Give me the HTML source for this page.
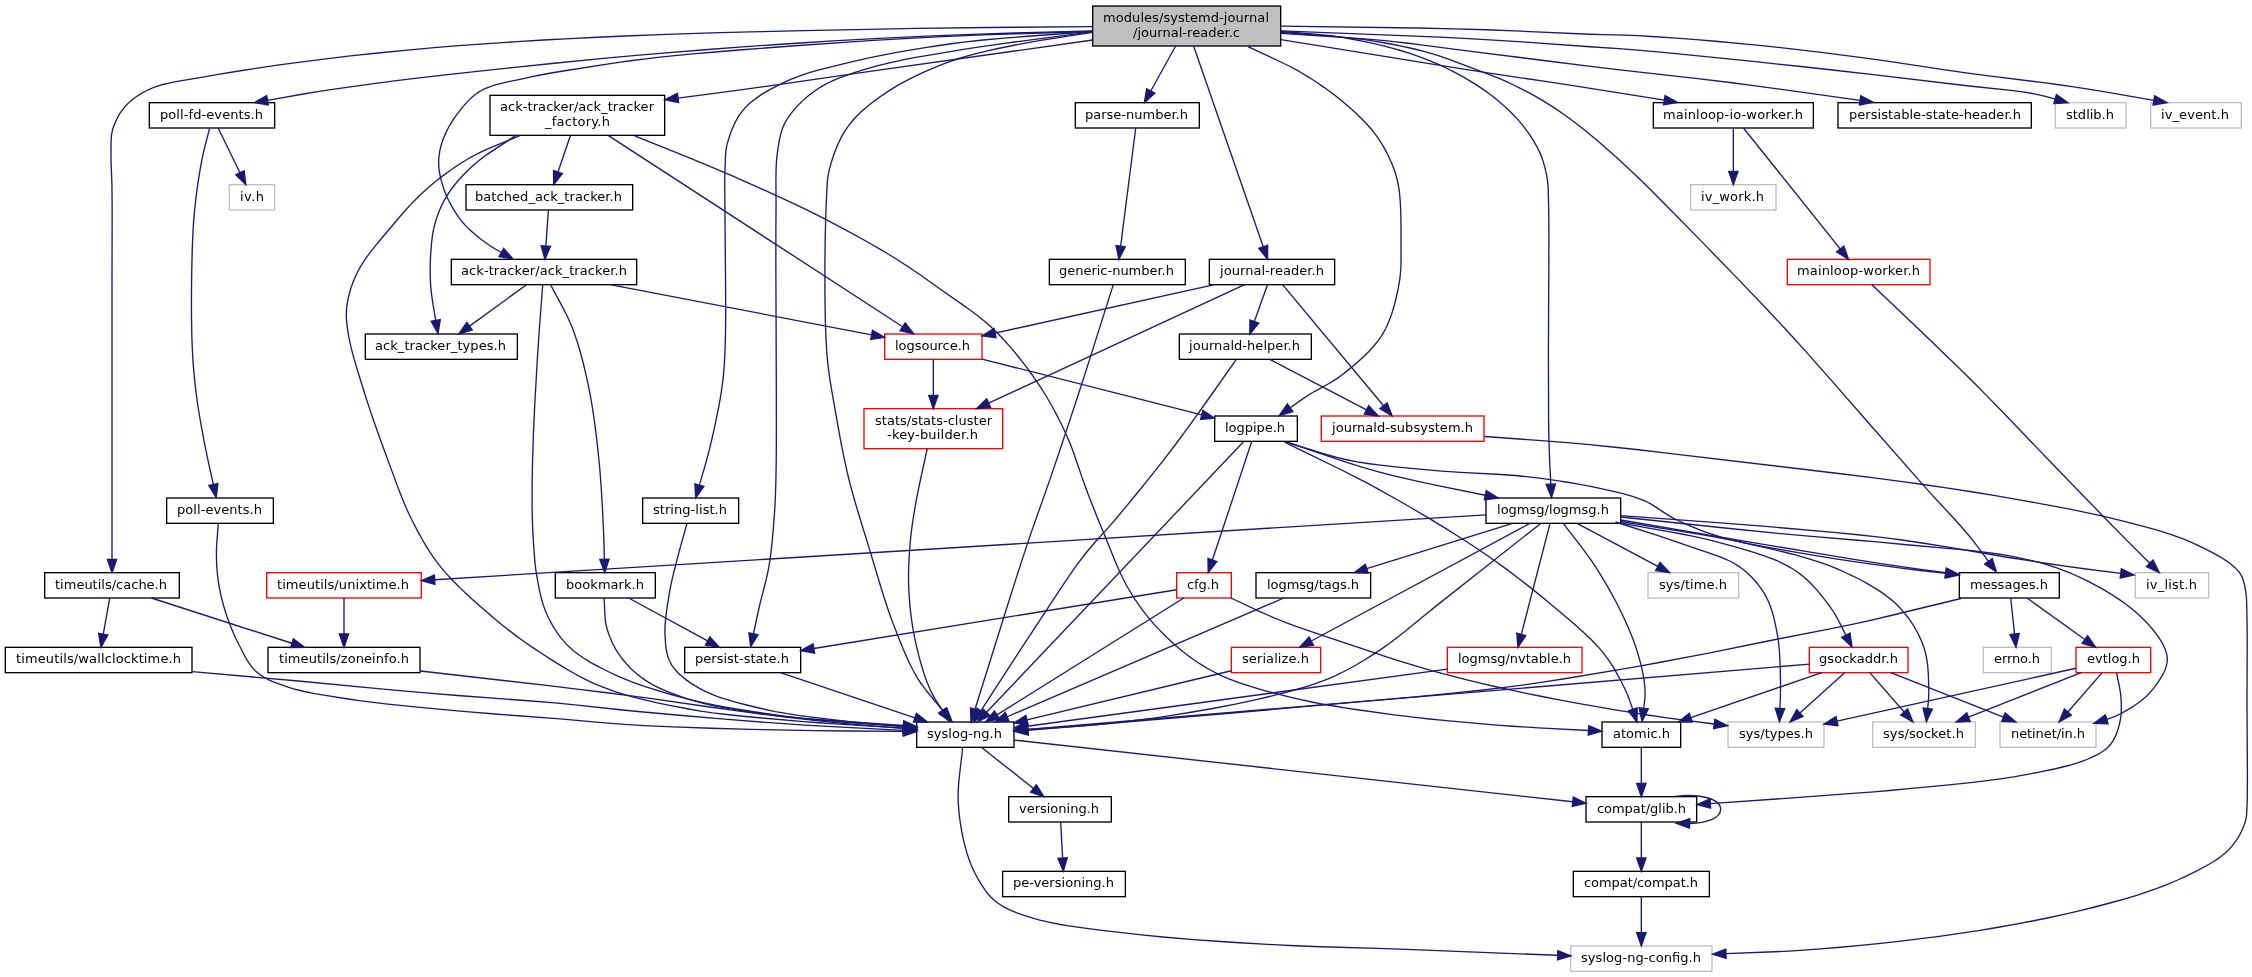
<!DOCTYPE html>
<html><head><meta charset="utf-8"><title>modules/systemd-journal/journal-reader.c</title>
<style>html,body{margin:0;padding:0;background:#fff}body{width:2252px;height:977px;overflow:hidden}</style></head>
<body>
<svg width="2252" height="977" viewBox="0 0 1689 732.75" style="display:block;will-change:transform">
<rect x="0" y="0" width="1689" height="733" fill="#fff"/>
<g font-family="'DejaVu Sans','Liberation Sans',sans-serif" font-size="9.75" text-anchor="start" fill="#000">
<rect x="819.5" y="4.5" width="141" height="30" fill="#bfbfbf" stroke="#000"/>
<text x="827.25" y="16.5" textLength="124.5">modules/systemd-journal</text>
<text x="849.75" y="27.5" textLength="80.24">/journal-reader.c</text>
<rect x="112" y="77" width="94" height="19" fill="#fff" stroke="#000"/>
<text x="120" y="89" textLength="77.25">poll-fd-events.h</text>
<rect x="367.5" y="71.5" width="131" height="30" fill="#fff" stroke="#000"/>
<text x="375" y="83.5" textLength="115.5">ack-tracker/ack_tracker</text>
<text x="408.75" y="94.5" textLength="48.74">_factory.h</text>
<rect x="806.5" y="77" width="93" height="19" fill="#fff" stroke="#000"/>
<text x="813.75" y="89" textLength="77.24">parse-number.h</text>
<rect x="1240" y="77" width="120" height="19" fill="#fff" stroke="#000"/>
<text x="1247.25" y="89" textLength="104.99">mainloop-io-worker.h</text>
<rect x="1378.5" y="77" width="145" height="19" fill="#fff" stroke="#000"/>
<text x="1386.75" y="89" textLength="128.99">persistable-state-header.h</text>
<rect x="1541.5" y="77" width="53" height="19" fill="#fff" stroke="#bfbfbf"/>
<text x="1549.5" y="89" textLength="36">stdlib.h</text>
<rect x="1613" y="77" width="68" height="19" fill="#fff" stroke="#bfbfbf"/>
<text x="1620.75" y="89" textLength="51">iv_event.h</text>
<rect x="172" y="138.5" width="34" height="19" fill="#fff" stroke="#bfbfbf"/>
<text x="180" y="150.5" textLength="17.99">iv.h</text>
<rect x="349.5" y="138.5" width="125" height="19" fill="#fff" stroke="#000"/>
<text x="356.25" y="150.5" textLength="110.24">batched_ack_tracker.h</text>
<rect x="1268" y="138.5" width="64" height="19" fill="#fff" stroke="#bfbfbf"/>
<text x="1275.75" y="150.5" textLength="47.25">iv_work.h</text>
<rect x="338.5" y="194.5" width="139" height="19" fill="#fff" stroke="#000"/>
<text x="345.75" y="206.5" textLength="124.49">ack-tracker/ack_tracker.h</text>
<rect x="787" y="194.5" width="102" height="19" fill="#fff" stroke="#000"/>
<text x="794.25" y="206.5" textLength="86.24">generic-number.h</text>
<rect x="907" y="194.5" width="94" height="19" fill="#fff" stroke="#000"/>
<text x="915" y="206.5" textLength="77.99">journal-reader.h</text>
<rect x="1340.5" y="194.5" width="107" height="19" fill="#fff" stroke="red"/>
<text x="1347.75" y="206.5" textLength="92.24">mainloop-worker.h</text>
<rect x="274" y="250.5" width="114" height="19" fill="#fff" stroke="#000"/>
<text x="281.25" y="262.5" textLength="98.25">ack_tracker_types.h</text>
<rect x="663.5" y="250.5" width="73" height="19" fill="#fff" stroke="red"/>
<text x="671.25" y="262.5" textLength="56.25">logsource.h</text>
<rect x="884.5" y="250.5" width="99" height="19" fill="#fff" stroke="#000"/>
<text x="891.75" y="262.5" textLength="83.24">journald-helper.h</text>
<rect x="648" y="306.5" width="104" height="30" fill="#fff" stroke="red"/>
<text x="656.25" y="318.5" textLength="87.75">stats/stats-cluster</text>
<text x="665.25" y="329.5" textLength="68.24">-key-builder.h</text>
<rect x="911" y="312" width="62" height="19" fill="#fff" stroke="#000"/>
<text x="918.75" y="324" textLength="45">logpipe.h</text>
<rect x="991" y="312" width="122" height="19" fill="#fff" stroke="red"/>
<text x="999" y="324" textLength="105.75">journald-subsystem.h</text>
<rect x="125" y="373.5" width="80" height="19" fill="#fff" stroke="#000"/>
<text x="132.75" y="385.5" textLength="63.75">poll-events.h</text>
<rect x="482" y="373.5" width="72" height="19" fill="#fff" stroke="#000"/>
<text x="489.75" y="385.5" textLength="55.5">string-list.h</text>
<rect x="1114.5" y="373.5" width="101" height="19" fill="#fff" stroke="#000"/>
<text x="1122.75" y="385.5" textLength="84">logmsg/logmsg.h</text>
<rect x="33.5" y="429.5" width="101" height="19" fill="#fff" stroke="#000"/>
<text x="41.25" y="441.5" textLength="84">timeutils/cache.h</text>
<rect x="200" y="429.5" width="116" height="19" fill="#fff" stroke="red"/>
<text x="207.75" y="441.5" textLength="99">timeutils/unixtime.h</text>
<rect x="416.5" y="429.5" width="75" height="19" fill="#fff" stroke="#000"/>
<text x="424.5" y="441.5" textLength="58.5">bookmark.h</text>
<rect x="882.5" y="429.5" width="41" height="19" fill="#fff" stroke="red"/>
<text x="890.25" y="441.5" textLength="24">cfg.h</text>
<rect x="942" y="429.5" width="86" height="19" fill="#fff" stroke="#000"/>
<text x="950.25" y="441.5" textLength="69">logmsg/tags.h</text>
<rect x="1236" y="429.5" width="68" height="19" fill="#fff" stroke="#bfbfbf"/>
<text x="1244.25" y="441.5" textLength="51">sys/time.h</text>
<rect x="1469.5" y="429.5" width="75" height="19" fill="#fff" stroke="#000"/>
<text x="1477.5" y="441.5" textLength="58.5">messages.h</text>
<rect x="1601.5" y="429.5" width="55" height="19" fill="#fff" stroke="#bfbfbf"/>
<text x="1609.5" y="441.5" textLength="38.25">iv_list.h</text>
<rect x="4" y="485.5" width="140" height="19" fill="#fff" stroke="#000"/>
<text x="12" y="497.5" textLength="123.75">timeutils/wallclocktime.h</text>
<rect x="201" y="485.5" width="114" height="19" fill="#fff" stroke="#000"/>
<text x="209.25" y="497.5" textLength="97.5">timeutils/zoneinfo.h</text>
<rect x="513.5" y="485.5" width="87" height="19" fill="#fff" stroke="#000"/>
<text x="521.25" y="497.5" textLength="70.5">persist-state.h</text>
<rect x="923.5" y="485.5" width="67" height="19" fill="#fff" stroke="red"/>
<text x="931.5" y="497.5" textLength="50.25">serialize.h</text>
<rect x="1085.5" y="485.5" width="101" height="19" fill="#fff" stroke="red"/>
<text x="1093.5" y="497.5" textLength="84.75">logmsg/nvtable.h</text>
<rect x="1357" y="485.5" width="74" height="19" fill="#fff" stroke="red"/>
<text x="1364.25" y="497.5" textLength="59.24">gsockaddr.h</text>
<rect x="1487.5" y="485.5" width="51" height="19" fill="#fff" stroke="#bfbfbf"/>
<text x="1495.5" y="497.5" textLength="34.5">errno.h</text>
<rect x="1557" y="485.5" width="56" height="19" fill="#fff" stroke="red"/>
<text x="1565.25" y="497.5" textLength="39.75">evtlog.h</text>
<rect x="687.5" y="541.5" width="73" height="19" fill="#fff" stroke="#000"/>
<text x="695.25" y="553.5" textLength="56.25">syslog-ng.h</text>
<rect x="1201.5" y="541.5" width="59" height="19" fill="#fff" stroke="#000"/>
<text x="1209.75" y="553.5" textLength="42.75">atomic.h</text>
<rect x="1296" y="541.5" width="72" height="19" fill="#fff" stroke="#bfbfbf"/>
<text x="1304.25" y="553.5" textLength="55.5">sys/types.h</text>
<rect x="1404.5" y="541.5" width="77" height="19" fill="#fff" stroke="#bfbfbf"/>
<text x="1412.25" y="553.5" textLength="60.75">sys/socket.h</text>
<rect x="1500" y="541.5" width="72" height="19" fill="#fff" stroke="#bfbfbf"/>
<text x="1508.25" y="553.5" textLength="55.5">netinet/in.h</text>
<rect x="756.5" y="597.5" width="77" height="19" fill="#fff" stroke="#000"/>
<text x="764.25" y="609.5" textLength="60">versioning.h</text>
<rect x="1189.5" y="597.5" width="83" height="19" fill="#fff" stroke="#000"/>
<text x="1197.75" y="609.5" textLength="66.75">compat/glib.h</text>
<rect x="752" y="653.5" width="92" height="19" fill="#fff" stroke="#000"/>
<text x="759.75" y="665.5" textLength="75.75">pe-versioning.h</text>
<rect x="1180" y="653.5" width="102" height="19" fill="#fff" stroke="#000"/>
<text x="1188" y="665.5" textLength="85.5">compat/compat.h</text>
<rect x="1178" y="709.5" width="106" height="19" fill="#fff" stroke="#bfbfbf"/>
<text x="1185.75" y="721.5" textLength="90">syslog-ng-config.h</text>
</g>
<g fill="none" stroke="#191970">
<path d="M819.45,20.02 741.65,20.6 686.92,21.34 651.09,21.99 603.02,23.01 562.64,23.94 533.55,24.71 511.04,25.39 495,25.95 468.94,26.98 448.08,27.91 427.74,28.92 407.65,30.03 388.09,31.22 365.84,32.68 343.92,34.26 325.74,35.72 307.5,37.35 285.24,39.54 262.81,41.96 244.4,44.11 226.62,46.34 208,48.88 190.7,51.42 176.82,53.61 163.65,55.83 150.05,58.26 134.09,60.87 129.12,61.79 125.92,62.46 122.83,63.2 119.86,64.03 117.01,64.95 114.3,66 112.3,66.87 109.42,68.25 107.58,69.22 104.93,70.74 102.42,72.36 100.06,74.07 98.57,75.27 96.46,77.15 94.5,79.12 92.82,81.07 91.26,83.13 89.82,85.29 88.09,88.29 86.95,90.59 85.65,93.68 84.6,96.75 84.05,98.87 83.69,100.98 83.41,103.8 83.29,107.41 83.23,118.23 83.32,122.21 83.95,138.02 84.11,156.1 84,211.04 84,419.5"/>
<path d="M819.45,23.25 761.13,24.76 733.83,25.59 694.69,27.12 659.23,28.77 624.8,30.69 603.01,32.05 580.14,33.57 556.78,35.2 533.55,36.92 495,39.97 477.48,41.48 456.35,43.42 415.67,47.44 384.26,50.68 357.87,53.48 335.71,55.93 314.37,58.41 295.89,60.7 279.01,62.88 262.71,65.1 249.54,67.01 239.55,68.52 228.59,70.31 200.65,75.22"/>
<path d="M819.45,23.62 761.13,25.34 737.74,26.14 706.36,27.52 675.16,29.14 655.17,30.31 638.57,31.37 596.47,34.31 554.19,37.52 536.46,38.98 519.65,40.46 504.25,41.93 495,42.9 484.25,44.14 474.44,45.38 465.3,46.63 456.6,47.9 422.42,53.24 413.26,54.77 404.33,56.43 399.08,57.51 390.93,59.3 381.49,61.24 376.87,62.28 373.87,63.03 369.54,64.3 366.79,65.26 364.17,66.33 362.91,66.91 361.7,67.52 359.58,68.74 357.77,69.94 356.04,71.22 354.4,72.57 352.82,73.99 349.87,76.97 348.49,78.52 346.49,80.9 342.18,86.49 340.51,88.85 338.93,91.28 336.48,95.44 334.34,99.66 332.55,103.87 331.7,106.25 331.02,108.42 330.43,110.57 329.93,112.71 329.34,116.31 329.12,118.5 329.01,120.72 329.02,123 329.12,124.76 329.28,126.55 329.65,129.29 329.98,131.15 330.58,133.96 331.86,138.64 332.77,141.42 333.77,144.15 334.92,146.95 335.79,148.87 336.72,150.79 338.23,153.66 341,158.37 342.79,161.1 344.03,162.86 345.94,165.41 347.25,167.02 349.87,169.96 352.67,172.71 356.35,175.95 360.96,179.59 366.45,183.58 370.5,186.17 376.03,189.35"/>
<path d="M819.45,30 644.54,54.71 578.68,64.19 552.63,67.74 508.51,73.54"/>
<path d="M819.45,23.48 801.82,24.91 768.34,27.4 752.85,28.63 735.53,30.21 722.92,31.59 714.75,32.62 704.27,34.1 693.89,35.67 683.67,37.35 673.65,39.11 663.88,40.96 654.42,42.87 648.3,44.18 639.45,46.19 627.88,48.98 619.51,51.07 613.48,52.67 607.63,54.36 601.98,56.17 596.51,58.15 592.96,59.59 588.01,61.82 582.1,64.72 576.35,67.8 572.21,70.25 568.29,72.83 564.62,75.55 561.28,78.42 559.25,80.42 558.3,81.45 556.01,84.26 554.62,86.23 553.33,88.28 551.57,91.45 550.51,93.6 549.54,95.78 548.64,97.96 547.44,101.22 545.78,106.5 545.31,108.26 544.94,109.98 544.42,113.37 544.19,115.89 544.02,119.29 543.61,131.21 543.54,137.51 544.19,214.79 544.26,232.71 544.19,245.01 544.08,252.34 543.84,260.4 543.47,269.11 543.01,276.56 542.59,281.34 542.18,285.04 541,293.83 540.14,299.16 539.15,304.65 536.9,315.9 534,328.95 531.48,339.37 528.8,349.22 524.54,363.89"/>
<path d="M819.45,23.77 801.68,26.16 752.02,32.66 734.78,35.09 722.52,36.97 694.82,41.65 686.71,43.1 678.86,44.59 671.26,46.16 666.33,47.27 659.14,49.05 654.49,50.33 646.72,52.66 639.63,54.89 634.5,56.63 629.54,58.47 624.77,60.45 621.71,61.88 617.3,64.19 614.49,65.87 610.73,68.41 607.21,71.07 604.93,72.95 602.72,74.9 599.56,77.93 596.61,81.06 593.93,84.27 591.55,87.51 589.5,90.75 588.07,93.47 587.28,95.27 586.59,97.07 585.72,99.8 584.82,103.56 583.94,108.54 583.12,114 582.71,117.23 582.28,122.17 582.05,127.29 581.95,134.54 582.04,153.68 581.91,173.41 581.89,196.12 582.27,298.92 582.26,332.3 582.17,345.99 581.91,360.71 581.54,372.67 581.05,382.35 579.94,397.18 579.02,407.33 578.03,415.99 577.43,420.27 576.75,424.5 575.99,428.53 574.81,433.85 573.51,439.12 570.48,450.84 569.25,456 565.09,475.32"/>
<path d="M819.45,24.3 785.41,29.51 778.19,30.68 771.09,31.9 764.13,33.22 747.68,36.58 739.82,38.3 732.06,40.17 724.36,42.27 718.6,44.06 712.75,46.09 706.69,48.36 698.53,51.65 692.44,54.29 686.43,57.09 680.58,60.03 674.95,63.09 669.59,66.27 666.37,68.33 661.9,71.31 656.11,75.44 653.31,77.57 650.59,79.75 646.68,83.12 643.02,86.6 639.65,90.22 636.6,93.97 634.09,97.58 631.83,101.38 630.44,104 629.15,106.66 627.95,109.35 626.84,112.05 624.87,117.44 623.22,122.71 622.22,126.3 621.74,128.3 621.18,131.14 620.78,133.86 620.5,136.6 620.3,139.47 619.64,153.19 619.36,160.58 618.91,178.62 618.67,199.41 618.7,221.08 618.83,231.65 619.05,241.73 619.56,255.42 620.03,263.25 620.56,269.66 621.41,277.35 622.4,284.38 623.49,291.09 628.82,321.54 630.83,332.38 633.02,343.3 635.42,354.19 637.55,362.86 640.5,373.7 643.68,384.53 651.75,410.7 659.54,436.68 663.21,448.51 665.48,455.42 667.8,462.12 670.07,468.27 673.6,477.46 677.22,486.41 680.94,494.91 683.23,499.7 684.78,502.73 686.36,505.62 687.76,508.02 690.25,511.88 693.47,516.29 696.07,519.56 707.52,533.51"/>
<path d="M881.72,34.5 863.08,68.25"/>
<path d="M895.2,34.5 947.43,185.05"/>
<path d="M936,34.95 942.8,38.2 958.31,45.39 966.73,49.51 971.63,52.07 974.8,53.84 981.96,58.17 987.43,61.69 992.74,65.31 997.88,69.02 1001.62,71.87 1006.45,75.74 1010.89,79.51 1015.17,83.31 1019.31,87.19 1023.25,91.14 1026.04,94.14 1028.67,97.16 1031.1,100.2 1033.07,102.88 1035.5,106.51 1037.72,110.18 1039.74,113.87 1041.58,117.55 1043.62,122.1 1045.17,125.93 1046.46,129.6 1047.54,133.35 1048.28,136.53 1049.1,140.93 1049.67,145.13 1050.09,149.74 1050.39,154.65 1050.63,161.48 1050.73,168.4 1050.79,195.23 1050.63,200.64 1050.23,206.08 1049.71,210.21 1048.66,216.13 1047.31,222.57 1045.67,229.12 1044.22,234.03 1042.54,238.87 1040.61,243.57 1039.16,246.6 1037.57,249.53 1035.8,252.4 1033.78,255.27 1032.69,256.68 1030.38,259.47 1026.64,263.56 1022.65,267.49 1018.53,271.24 1014.37,274.8 1010.28,278.15 1006.35,281.25 1004.23,282.84 1002.1,284.31 999.96,285.69 996.74,287.61 986.11,293.47 982.01,295.91 975.46,300.27 967.62,305.82"/>
<path d="M960.68,23.48 968.51,24.19 988.1,25.8 997.88,26.82 1003.73,27.59 1007.62,28.2 1013.58,29.24 1021.64,30.81 1029.72,32.56 1037.69,34.45 1045.41,36.48 1050.95,38.07 1057.38,40.07 1064.25,42.41 1070.78,44.88 1077.13,47.53 1083.45,50.43 1090.01,53.71 1096.74,57.34 1102.09,60.43 1107.32,63.66 1112.38,67.03 1117.2,70.5 1121.54,73.88 1126.81,78.3 1130.84,81.96 1134.66,85.7 1138.25,89.51 1141.47,93.27 1144.93,97.73 1147.49,101.39 1150.42,106.01 1152.99,110.64 1154.78,114.3 1156.1,117.46 1157.48,121.4 1158.79,126.12 1159.97,131.58 1160.48,134.5 1160.74,136.41 1161.09,140.61 1161.53,156.63 1161.66,174.75 1161.63,197.38 1161.3,263.29 1161.43,313.31 1161.6,325.95 1161.92,337.65 1162.35,348.02 1163.13,363.14"/>
<path d="M960.68,24.3 968.57,24.95 992.58,26.69 1003.12,27.53 1013.41,28.54 1018.41,29.12 1023.3,29.78 1031.66,31.04 1037.83,32.07 1045.88,33.55 1051.77,34.73 1057.52,35.99 1063.1,37.3 1068.49,38.68 1074.51,40.37 1079.92,42.09 1086.38,44.35 1114.7,55 1119.92,57.04 1125.12,59.17 1129.01,60.85 1132.88,62.62 1139.49,65.84 1144.76,68.55 1151.31,72.1 1156.51,75.1 1161.66,78.25 1166.89,81.62 1172.18,85.27 1177.42,89.08 1182.62,93.03 1189.08,98.13 1196.84,104.45 1202.25,109.06 1209.07,115.1 1215.77,121.2 1224.54,129.38 1232.29,136.73 1237.78,142.13 1248.17,152.59 1276.49,181.42 1302.67,208.41 1324.3,231.04 1339.72,247.5 1345.7,254.01 1354.47,263.72 1371.38,282.83 1402.61,318.6 1441.14,362.3 1450.22,372.45 1466,389.49 1471.64,395.77 1476,400.88 1480.73,406.76 1485.19,412.63 1491.34,420.97"/>
<path d="M960.68,29.78 1091.75,50.96 1114.62,54.49 1160.21,61.24 1179.75,64.2 1205.87,68.32 1248.25,75.14"/>
<path d="M960.68,25.05 1006.83,28.01 1023.05,29.17 1038.75,30.52 1046.85,31.35 1054.66,32.23 1067.31,33.79 1095.95,37.54 1159.17,45.58 1191.5,49.61 1216.43,52.55 1271.72,58.76 1297.5,61.88 1315.26,64.18 1333.13,66.6 1395.07,75.28"/>
<path d="M960.68,23.17 1056.74,26.87 1079.77,27.86 1101.6,28.95 1123.2,30.22 1144.41,31.61 1192.48,35.04 1216.74,36.68 1232.74,37.96 1251.26,39.67 1279.44,42.46 1318.32,46.46 1348.9,49.71 1376.07,52.69 1403.36,55.78 1476.87,64.48 1508.21,67.83 1518.18,69.13 1525.5,70.35 1529.13,71.09 1532.52,71.89 1536.78,73 1541.38,74.3"/>
<path d="M960.68,19.58 1062.59,21.02 1090.86,21.61 1114.56,22.32 1136.02,23.17 1192.48,25.69 1202.06,26 1219.38,26.4 1228.3,26.76 1241.6,27.54 1254.63,28.43 1272.21,29.76 1286.72,30.96 1311.53,33.22 1325.12,34.6 1338.72,36.08 1365.89,39.29 1396.45,43.2 1416.82,46.07 1457.52,52.17 1474.5,54.6 1491.61,56.86 1532.81,62.02 1542.9,63.36 1552.83,64.77 1565.03,66.63 1576.7,68.55 1615.4,75.32"/>
<path d="M157.2,96.3 153.87,109.11 152.72,113.81 151.65,118.73 150.49,124.8 149.2,132.48 147.84,141.67 146.7,150.74 145.81,159.14 145.21,166.31 144.8,172.75 144.35,182.53 144.08,190.96 143.8,203.69 143.66,213.9 143.59,227.74 143.63,237.83 143.91,253.06 144.22,261.16 144.67,269.48 145.12,275.71 145.8,283.26 146.63,290.86 147.4,297.18 148.53,305.07 149.81,312.95 151.21,320.85 153.3,332.02 155.71,343.91 160,363.36"/>
<path d="M163.63,96 179.98,129.51"/>
<path d="M163.73,392.7 162.59,407.31 162.38,411.2 162.3,415.06 162.4,420.73 162.64,425.42 163.11,431.02 163.67,435.67 164.42,440.33 165.36,445.01 166.46,449.68 167.99,455.26 169.42,459.88 171.36,465.53 173.16,470.25 175.1,474.93 176.78,478.63 178.11,481.35 182.79,490.49 184.79,494.13 186.41,496.77 188.15,499.27 190.06,501.6 191.43,503.03 193.66,504.98 196.05,506.72 198.57,508.28 201.23,509.68 204.04,510.97 208.02,512.57 213.38,514.49 217.71,515.91 222.83,517.33 228.27,518.61 235.97,520.16 244.09,521.57 261.15,524.25 269.59,525.48 278.43,526.63 290.71,528.06 313.08,530.35 339.12,532.82 349.62,533.75 371.2,535.49 420,539.17 453.76,542.14 468.41,543.29 483.24,544.19 504.93,545.19 533.51,546.19 562.93,547 591.15,547.65 611.7,548.01 635.23,548.25 677.53,548.54"/>
<path d="M390.15,101.55 383.69,104.33 369.02,110.36 364.18,112.45 359.43,114.67 356.31,116.23 353.26,117.87 350.28,119.59 345.9,122.28 341.59,125.09 337.35,128.02 331.83,132.08 327.79,135.23 322.55,139.56 318.75,142.88 315.16,146.19 311.68,149.61 308.3,153.12 303.92,157.9 299.66,162.78 285.96,179.04 281.67,184.21 277.54,189.43 274.65,193.36 271.99,197.29 269.65,201.2 267.84,204.69 266.3,207.99 264.92,211.31 263.32,215.72 262.31,219.02 261.21,223.39 260.58,226.62 260.03,230.62 259.82,233.32 259.77,236.84 259.87,239.46 260.19,243.03 260.68,246.8 261.56,252.43 262.19,255.66 263.35,260.77 264.25,264.34 265.77,269.87 268.59,279.4 274.68,298.87 276.72,305.16 279.59,313.68 285.64,330.81 297.96,364.23 300.08,369.77 302.25,375.23 304.51,380.59 306.89,385.83 308.55,389.25 311.72,395.48 314.12,400.02 316.58,404.47 319.15,408.84 321.85,413.15 324.73,417.43 326.76,420.26 328.89,423.09 331.28,426.09 333.98,429.26 336.82,432.43 339.78,435.59 342.86,438.72 346.02,441.83 350.88,446.43 355.82,450.93 360.77,455.32 367.27,460.95 371.81,464.78 376.33,468.49 380.87,472.09 385.45,475.59 390.09,479.02 394.81,482.39 399.65,485.71 404.62,489 413.71,494.87 423.02,500.67 430.72,505.13 434.67,507.28 438.69,509.35 442.8,511.34 446.99,513.24 453.73,515.98 461.3,518.68 469.15,521.13 477.23,523.36 482.72,524.74 488.27,526.05 493.88,527.29 502.35,529.05 516.53,531.75 525.51,533.28 534.54,534.59 546.71,536.08 559.07,537.35 571.67,538.51 602.6,541.2 614.37,542.09 626.38,542.91 677.55,546.09"/>
<path d="M386.85,101.55 381.62,105.08 369.59,112.93 365.69,115.59 363.16,117.39 359.51,120.15 357.21,122.04 354.17,124.73 350.43,128.26 346.88,131.87 343.53,135.55 340.43,139.3 338.28,142.16 335.74,145.93 333.63,149.48 331.75,153.1 330.06,156.78 328.58,160.49 326.97,165.15 325.9,168.82 324.9,173.32 324.18,177.85 323.65,182.44 323.03,190.02 322.74,195.23 322.61,200.54 322.64,205.91 322.83,211.29 323.21,216.72 323.74,221.35 324.41,226.09 326.78,240.35"/>
<path d="M427.88,101.5 418.48,129.04"/>
<path d="M456.08,101.5 677,245.05"/>
<path d="M476.03,101.85 517.5,118.65 533.31,125.15 548.8,131.72 566.07,139.33 585.63,148.19 601.98,155.91 609.98,159.83 617.85,163.8 632.38,171.43 646.67,179.27 660.27,187.08 666.68,190.9 672.75,194.62 681.43,200.2 690.58,206.45 706.59,217.88 721.62,228.31 726.74,231.94 731.81,235.69 735.13,238.27 739.97,242.27 743.09,245.04 746.12,247.92 749.14,250.93 752.12,254.04 756.5,258.86 759.35,262.15 763.52,267.19 766.22,270.6 770.16,275.75 772.69,279.19 776.35,284.34 778.61,287.65 781.76,292.46 783.77,295.69 786.68,300.56 789.46,305.46 792.11,310.41 794.67,315.4 797.92,322.11 800.26,327.2 802.44,332.38 803.81,335.9 805.77,341.23 812.43,360.64 814.25,365.7 815.98,370.23 820.22,381.21 823.41,389.23 829.39,403.7 836.59,421.47 839.72,428.66 842.22,433.93 844.88,439.02 846.75,442.28 848.62,445.33 851.51,449.82 854.52,454.21 857.65,458.5 859.81,461.3 863.17,465.42 865.48,468.1 869.09,472.04 871.58,474.61 875.57,478.5 879.76,482.37 884.11,486.14 887.09,488.6 891.71,492.17 894.89,494.47 898.14,496.7 901.48,498.85 904.9,500.92 908.41,502.9 912.24,504.89 916.42,506.88 920.73,508.74 925.16,510.49 929.69,512.14 936.67,514.46 943.84,516.61 951.17,518.65 958.61,520.61 969.02,523.24 974.87,524.6 983.84,526.49 989.94,527.67 999.24,529.33 1008.68,530.88 1018.23,532.33 1044.11,535.96 1061.48,538.09 1072.08,539.25 1082.75,540.32 1107.61,542.56 1125,543.97 1134.72,544.7 1153.9,545.89 1191.37,547.85"/>
<path d="M411.32,157.5 409.39,184.53"/>
<path d="M394.94,213.5 352.15,244.62"/>
<path d="M407.03,213.52 404.31,249.8 403.05,268.5 401.31,299.03 400.61,313.15 400.02,326.71 399.36,348.17 399.14,359.44 399.06,368.35 399.06,376.76 399.17,385.49 399.37,393.14 399.65,399.53 400.77,416.63 401.29,422.49 401.84,427.16 402.55,431.82 404.08,440.09 405.08,444.86 406.25,449.59 407.63,454.24 408.85,457.64 410.25,460.95 411.82,464.22 414.11,468.51 415.99,471.66 418.73,475.76 420.98,478.73 422.59,480.65 424.27,482.53 426.97,485.25 430.36,488.23 434.03,491.05 437.95,493.73 440.69,495.45 443.53,497.12 449.46,500.34 455.68,503.45 462.51,506.64 468.78,509.33 475.36,511.89 482.21,514.35 489.29,516.69 496.56,518.93 503.97,521.07 514,523.76 522.3,525.81 528.16,527.13 537.12,528.99 546.27,530.71 555.6,532.31 565.09,533.81 578,535.68 591.15,537.45 598.73,538.39 606.47,539.24 622.33,540.75 638.54,542.07 677.56,545.02"/>
<path d="M412.95,213.52 415.76,218.94 422.25,230.94 425.03,236.39 427.64,242.04 428.86,244.96 430.08,248.13 431.31,251.54 433.05,256.76 434.67,262.12 436.2,267.59 437.64,273.17 439,278.84 440.71,286.52 441.96,292.56 442.8,296.96 443.97,303.7 445.04,310.57 446.02,317.54 446.93,324.55 448.02,333.89 449.25,345.38 449.88,352.03 450.92,365.57 451.95,383.26 452.86,403.26 453.29,419.38"/>
<path d="M457.54,213.5 653.68,251.12"/>
<path d="M851.79,96 840.48,184.58"/>
<path d="M834.99,213.5 814.96,276.68 808.62,296.24 801.17,318.86 794.82,337.89 787.74,358.76 773.85,398.16 770.41,408.27 766.57,419.9 761.85,434.51 755.09,455.81 731.26,531.96"/>
<path d="M910.91,213.5 746.27,249.8"/>
<path d="M933.46,213.5 741.5,302.3"/>
<path d="M950.61,213.5 940.76,241.08"/>
<path d="M961.92,213.5 1037.67,304.32"/>
<path d="M927.25,269.5 905.01,301.12 893.93,316.65 887.36,325.66 883.03,331.49 873.25,344.28 867.49,351.65 859.83,361.25 852.35,370.49 843.45,381.32 836.85,389.25 833.53,393.14 829.38,397.8 821.59,406.36 817.73,410.79 813.73,415.67 808.79,422.2 806.2,425.8 802.29,431.39 794.33,443.24 767.01,484.72 735.61,533.11"/>
<path d="M952.23,269.5 1024.9,307.38"/>
<path d="M1113.38,327.38 1156.22,330.51 1172.98,331.81 1190.41,333.33 1211.19,335.41 1228.91,337.34 1251.71,339.97 1380.49,355.32 1404.22,358.27 1426.74,361.21 1442.4,363.38 1461.04,366.11 1478.64,368.83 1498.6,372.11 1517.56,375.4 1538.25,379.16 1554.21,382.22 1567.51,384.99 1578.68,387.53 1594.67,391.4 1606.17,394.35 1617.28,397.45 1625.61,400.02 1629.52,401.34 1634.2,403.03 1638.3,404.62 1643.54,406.81 1647.29,408.47 1652.03,410.7 1656.44,412.91 1660.5,415.05 1664.42,417.24 1667.4,419.02 1670.13,420.8 1672.14,422.26 1674.35,424.05 1676.64,426.11 1678.09,427.59 1679.39,429.16 1680.54,430.88 1681.38,432.47 1682.26,434.6 1682.95,436.88 1683.63,439.83 1684.25,443.27 1684.56,445.66 1684.78,448.15 1684.97,451.66 1685.07,455.42 1685.33,468.96 1685.41,477.77 1685.25,528.16 1685.56,583.04 1685.45,598.01 1685.33,602.59 1684.97,610.82 1684.74,612.72 1684.32,614.77 1683.72,616.89 1682.93,619.18 1682,621.52 1680.93,623.85 1679.75,626.14 1678.46,628.34 1677.05,630.49 1675.55,632.59 1673.93,634.63 1672.62,636.12 1670.73,638.07 1669.2,639.52 1667.55,640.95 1665.23,642.76 1663.56,643.95 1660.89,645.71 1658.06,647.43 1655.11,649.11 1647.94,652.93 1640.13,656.84 1632.8,660.19 1625.17,663.39 1617.28,666.44 1610.14,668.99 1602.5,671.47 1593.07,674.29 1581.74,677.43 1569.58,680.63 1558.56,683.35 1547.22,685.96 1535.46,688.49 1524.3,690.75 1511.95,693.08 1496.63,695.79 1483.74,697.92 1468.46,700.27 1455.86,702.05 1440.73,704.01 1425.59,705.81 1410.45,707.47 1395.4,709.02 1380.39,710.44 1365.29,711.7 1352.57,712.63 1341.94,713.29 1331.08,713.83 1294.44,715.24"/>
<path d="M700,269.5 700,296.5"/>
<path d="M736.5,269.28 901.31,311.16"/>
<path d="M695.4,336.6 689.61,363.18 687.52,373.46 686.62,378.38 685.31,386.25 684.35,392.51 683.68,397.44 682.97,403.65 682.5,408.75 681.91,416.97 681.56,423.9 681.41,429.5 681.39,435.15 681.54,440.84 681.77,445.32 682.34,453.05 682.98,459.31 683.79,465.59 684.77,471.86 685.93,478.08 687.3,484.38 688.85,490.84 690.59,497.3 692.51,503.66 694.07,508.27 695.73,512.71 697.5,516.9 699.13,520.26 701.48,524.48 703.98,528.48 706.86,532.77"/>
<path d="M932.98,331 739.91,534.25"/>
<path d="M938.85,331 909.3,420.01"/>
<path d="M963.3,331.5 975.17,337.37 1004.74,351.76 1019.63,359.28 1028.65,364.04 1034.7,367.35 1048.27,374.99 1058.73,381.03 1072.81,389.37 1083.3,395.76 1093.57,402.2 1103.51,408.6 1112.97,414.92 1121.03,420.52 1130.83,427.62 1140.26,434.75 1149.29,441.85 1157.91,448.84 1166.09,455.67 1181.94,469.21 1187.52,474.15 1192.77,479.08 1196.47,482.82 1199.93,486.63 1202.1,489.22 1203.87,491.49 1207.17,496.11 1210.18,500.79 1213.57,506.68 1215.44,510.21 1217.22,513.73 1218.9,517.2 1220.28,520.26 1222.28,525.34 1224.56,532.02"/>
<path d="M966.6,332.25 975.04,335.02 1000.02,343.48 1011.25,347.18 1022.76,350.76 1028.67,352.48 1034.7,354.15 1041.67,355.96 1048.79,357.7 1063.42,361.02 1078.41,364.18 1113.94,371.42"/>
<path d="M964.35,331.5 972.32,333.89 991.97,340.07 998,341.82 1002.1,342.92 1008.4,344.45 1012.72,345.38 1017.83,346.34 1025.73,347.62 1033.87,348.72 1044.98,350 1056.25,351.1 1081.4,353.34 1086.93,353.77 1095.28,354.3 1125.84,355.89 1134,356.45 1142.02,357.17 1154.34,358.61 1161.61,359.57 1168.81,360.6 1175.9,361.71 1182.81,362.87 1193.81,364.93 1207.68,367.92 1216.36,370.01 1223.19,371.91 1227.11,373.19 1229.66,374.1 1232.15,375.08 1234.42,376.06 1236.41,377.05 1238.32,378.1 1241.93,380.33 1249.83,385.63 1253.62,387.89 1255.65,388.95 1259.36,390.76 1265.73,393.7 1269.7,395.41 1273.82,397.08 1278.13,398.71 1282.64,400.28 1287.38,401.8 1291.34,402.97 1298.75,404.9 1304.01,406.12 1309.48,407.3 1315.11,408.44 1323.79,410.09 1335.56,412.18 1358.56,416.13 1375.58,418.91 1398.34,422.29 1424.63,425.91 1438.71,427.68 1459.32,430.08"/>
<path d="M1300,96 1300,128.5"/>
<path d="M1307.6,96 1380.15,186.69"/>
<path d="M1403.92,213.5 1441.29,249.08 1455.66,262.86 1469.63,276.43 1482.7,289.37 1491.45,298.22 1502.9,309.96 1540.62,349.3 1577.13,386.95 1595.1,405.26 1612.34,422.46"/>
<path d="M515.17,392.85 509.3,413.95 505.29,429.35 503.57,436.74 502.7,441.15 501.8,446.28 500.18,456.27 499.25,463.57 498.79,469.25 498.7,471.98 498.7,474.61 498.91,478.93 499.19,482.91 499.5,485.8 499.79,487.69 500.36,490.45 500.85,492.25 501.45,494.01 502.16,495.72 503,497.4 504.05,499.14 505.32,500.93 506.74,502.68 508.3,504.37 509.99,506.01 511.8,507.61 514.71,509.92 517.84,512.12 521.14,514.23 524.58,516.25 527.31,517.73 530.59,519.31 534.08,520.8 537.75,522.21 541.57,523.54 545.52,524.8 549.57,526 553.69,527.14 559.96,528.76 572.47,531.75 576.93,532.74 581.45,533.65 590.64,535.27 600.01,536.67 611.86,538.22 630.93,540.51 640.68,541.57 652.97,542.71 677.56,544.75"/>
<path d="M1114.5,386.12 325.98,434.8"/>
<path d="M1134.46,392.5 1025.08,426.53"/>
<path d="M1147.36,392.5 983.45,480.76"/>
<path d="M1155.53,392.55 1076.02,455.36 1070.14,460.08 1052.25,474.7 1047.12,478.74 1041.98,482.61 1036.77,486.31 1028.8,491.57 1022.73,495.38 1016.68,498.96 1010.53,502.33 1005.79,504.73 1000.89,507.02 995.6,509.29 991.76,510.81 987.86,512.24 983.9,513.59 977.85,515.51 973.73,516.73 967.42,518.48 960.95,520.17 952.05,522.39 944.66,524.17 938.82,525.51 926.54,528.11 910.49,531.19 894.33,534.02 878.75,536.54 865.49,538.53 851.31,540.39 837.55,541.96 821.54,543.55 807.58,544.75 793.6,545.71 770.93,547.03"/>
<path d="M1162.54,392.5 1140.97,475.82"/>
<path d="M1172.47,392.55 1176.48,397.84 1185.62,409.66 1190.59,416.3 1193.47,420.36 1195.34,423.11 1199.89,430.21 1203.45,436.07 1206.04,440.53 1209.38,446.49 1211.78,450.96 1214.05,455.39 1216.2,459.75 1218.64,464.95 1220.96,470.12 1223.12,475.27 1224.63,479.1 1226.48,484.19 1227.73,487.98 1229.16,492.79 1230.4,497.36 1231.49,501.9 1232.2,505.29 1232.8,508.66 1233.27,512 1233.61,515.31 1233.79,518.51 1233.77,521.52 1233.6,524.49 1233.3,527.44 1232.8,531.21"/>
<path d="M1182.81,392.5 1243.36,424.79"/>
<path d="M1211.62,391.5 1241.3,401.02 1252.5,404.69 1259,406.91 1270.5,410.96 1284.26,415.53 1289.17,417.3 1292.34,418.55 1296.87,420.57 1299.73,422.05 1302.43,423.65 1304.79,425.24 1307.84,427.55 1310.72,429.99 1313.43,432.56 1315.95,435.24 1317.54,437.09 1319.05,439 1320.49,440.95 1321.85,442.95 1323.13,444.99 1324.35,447.1 1326.01,450.43 1326.99,452.73 1327.89,455.09 1328.7,457.5 1329.45,459.95 1330.13,462.44 1331.06,466.23 1332.41,472.63 1333.38,477.97 1334.13,483.68 1334.64,489.52 1334.96,495.44 1335.21,502.8 1335.43,514 1335.31,521.87 1334.97,531.36"/>
<path d="M1215.6,392.25 1227.97,394.56 1252.51,398.86 1262.33,400.67 1268.45,401.88 1274.48,403.15 1283.31,405.22 1289.03,406.72 1304.15,410.91 1311.64,413.09 1316.55,414.6 1323.7,417.01 1328.29,418.72 1332.71,420.54 1336.94,422.47 1340.93,424.54 1344.68,426.75 1347.48,428.62 1350.14,430.58 1352.67,432.62 1356.23,435.81 1359.56,439.15 1362.7,442.6 1365.69,446.15 1369.51,450.99 1372.27,454.67 1374.8,458.43 1376.38,461.01 1378.61,464.97 1380.72,469 1384.4,476.37"/>
<path d="M1215.6,391.12 1231.76,393.84 1272.71,400.45 1284.71,402.52 1292.55,403.97 1303.96,406.24 1311.3,407.85 1332.21,412.66 1340.86,414.76 1346.51,416.22 1354.79,418.53 1362.82,421.02 1370.58,423.74 1375.59,425.71 1380.16,427.67 1384.35,429.55 1388.5,431.5 1392.6,433.5 1396.62,435.58 1400.54,437.72 1406.21,441.06 1409.82,443.38 1413.28,445.78 1416.56,448.26 1418.13,449.52 1421.11,452.12 1422.53,453.45 1424.81,455.76 1426.98,458.14 1429.04,460.6 1430.99,463.11 1432.83,465.69 1434.56,468.31 1436.17,470.96 1437.67,473.65 1439.06,476.35 1440.93,480.43 1442.04,483.14 1442.99,485.76 1444.1,489.6 1444.69,492.22 1445.16,494.85 1445.54,497.51 1445.84,500.17 1446.07,502.83 1446.3,506.8 1446.63,517.99 1446.45,523.42 1446.22,526.61 1445.75,531.4"/>
<path d="M1215.6,390 1314.8,406.97 1361.23,414.71 1388.07,419.11 1409.47,422.51 1424.76,424.83 1439.2,426.86 1459.34,429.49"/>
<path d="M1215.6,387.75 1295.42,396.21 1333.5,400.05 1356.63,402.14 1393.32,405.19 1407.84,406.46 1430.05,408.57 1469.02,412.03 1480.49,413.19 1487.9,414.05 1498.54,415.48 1505.24,416.56 1513.72,418.2 1523.9,420.48 1531.4,422.42 1538.54,424.54 1542.04,425.7 1545.52,426.94 1549,428.27 1552.52,429.71 1556.1,431.25 1559.95,433.01 1565.85,435.87 1571.79,438.97 1577.7,442.27 1583.47,445.73 1589.01,449.32 1594.22,452.99 1599.01,456.71 1601.69,458.98 1604.05,461.11 1606.37,463.31 1608.63,465.57 1610.82,467.87 1612.9,470.19 1614.87,472.51 1616.71,474.81 1618.4,477.08 1619.92,479.3 1621.83,482.49 1622.85,484.5 1623.64,486.29 1624.47,488.55 1624.94,490.19 1625.26,491.8 1625.43,493.43 1625.44,495.08 1625.36,496.22 1625.21,497.4 1624.92,498.85 1624.4,500.62 1623.7,502.47 1622.85,504.38 1621.85,506.32 1620.73,508.28 1618.86,511.23 1616.12,515.04 1614.68,516.85 1612.48,519.4 1610.2,521.78 1608.54,523.32 1606.79,524.81 1603.07,527.64 1601.14,528.98 1598.19,530.89 1593.28,533.77 1590.41,535.32 1587.89,536.57 1586.3,537.27 1583.93,538.2 1580.05,539.5"/>
<path d="M1215.6,386.7 1290.51,392.18 1324.26,394.83 1375.17,399.3 1393.34,401.08 1407.85,402.67 1418.83,404 1426.27,404.98 1441.62,407.23 1461.19,410.41 1505.2,417.93 1536.55,422.8 1548.85,424.61 1561.65,426.38 1590.58,430.01"/>
<path d="M1470.75,448.88 1417.48,461.81 1401.28,465.6 1389.12,468.29 1370.6,472.09 1329.68,480 1280.63,489.97 1267.5,492.52 1245.35,496.69 1228.54,499.75 1214.36,502.25 1173.32,509.08 1158.31,511.43 1145.68,513.27 1128.63,515.55 1108.91,517.87 1085.85,520.27 1061.25,522.61 924.16,534.74 770.91,547.77"/>
<path d="M1508.02,448.5 1510.92,475.56"/>
<path d="M1520.23,448.5 1563.64,479.67"/>
<path d="M1357,498.09 770.47,547.12"/>
<path d="M1366.35,504.5 1268.11,538.25"/>
<path d="M1383.48,504.5 1349.94,534.8"/>
<path d="M1402.31,504.5 1428.1,533.97"/>
<path d="M1418.09,504.5 1502.61,537.83"/>
<path d="M1557,501.2 1377.76,540.87"/>
<path d="M1560.91,504.5 1476.39,537.83"/>
<path d="M1576.69,504.5 1550.9,533.97"/>
<path d="M1587.38,504.38 1589.66,515.54 1590.44,520.32 1590.69,522.7 1590.84,525.07 1590.96,528.24 1590.98,531.41 1590.86,534.58 1590.66,536.92 1590.36,539.24 1589.94,541.51 1589.22,544.44 1588.36,547.39 1587.61,549.57 1586.75,551.72 1585.78,553.78 1585.06,555.11 1583.85,557 1582.97,558.18 1582,559.32 1580.4,560.92 1579.27,561.91 1577.46,563.28 1575.5,564.56 1573.38,565.77 1571.1,566.94 1568.65,568.09 1566,569.25 1562.89,570.5 1557.72,572.27 1553.97,573.4 1550,574.49 1541.55,576.56 1530.26,578.96 1518.55,581.19 1510.05,582.68 1500.35,584.15 1490.17,585.49 1479.66,586.73 1461.73,588.61 1429.78,591.71 1419.36,592.67 1405.41,593.85 1384.48,595.46 1336.96,598.93 1282.73,602.68"/>
<path d="M882.5,442.32 610.37,486.36"/>
<path d="M887.82,448.5 747.66,536.2"/>
<path d="M923.25,448.5 945.35,458.84 954.67,462.96 959.62,465 966,467.48 972.69,469.96 979.63,472.43 993.96,477.34 1027.14,488.37 1038.8,492.21 1050.47,495.95 1059.82,498.84 1069.18,501.61 1078.49,504.22 1090.13,507.32 1099.45,509.69 1111.12,512.52 1122.8,515.24 1134.46,517.84 1143.79,519.82 1155.46,522.18 1169.48,524.88 1183.5,527.47 1197.45,529.97 1211.41,532.35 1225.38,534.62 1237.04,536.42 1246.39,537.8 1255.76,539.09 1285.71,542.98"/>
<path d="M453.08,448.8 453.31,452.39 453.61,460.51 453.8,463.2 454.23,466.75 454.54,468.51 454.95,470.25 455.7,472.91 456.57,475.56 457.55,478.2 458.65,480.81 459.87,483.39 461.21,485.92 462.67,488.39 463.71,490.01 465.47,492.5 467.41,495.03 469.5,497.51 470.97,499.12 473.29,501.5 474.92,503.04 477.47,505.28 479.25,506.72 482.04,508.81 484.15,510.25 486.53,511.74 489,513.18 491.57,514.55 494.22,515.87 499.78,518.35 502.67,519.53 507.14,521.22 514.92,523.89 518.54,525.03 522.63,526.21 528.93,527.85 535.45,529.34 544.55,531.14 554.18,532.79 567.04,534.73 576.47,536.03 584.86,537.03 593.73,537.95 602.98,538.79 622.41,540.3 677.56,544.1"/>
<path d="M471.47,448.5 530.74,480.72"/>
<path d="M82.3,448.5 77.45,475.66"/>
<path d="M113.52,448.5 218.96,482.44"/>
<path d="M258,448.5 258,475.5"/>
<path d="M315.23,503.25 409.93,514.06 434.34,516.98 456.73,519.74 474.76,522.06 488.88,523.97 532.23,530.26 547.71,532.44 571.18,535.5 594.12,538.33 614.01,540.6 630.71,542.32 647.01,543.78 677.56,546.29"/>
<path d="M144.15,503.7 223.8,510.75 289.33,517.01 317.1,519.53 343.13,521.61 396.15,525.57 416.25,527.22 433.09,528.82 463.5,532.12 476.44,533.43 509.55,536.45 543.32,539.34 577.32,542.01 603.54,543.81 627.81,545.21 677.54,547.72"/>
<path d="M585.33,504.5 686.19,538.32"/>
<path d="M962.86,448.5 755.33,537.56"/>
<path d="M923.5,503.05 770.22,539.89"/>
<path d="M1085.5,501.86 770.41,544.69"/>
<path d="M721.95,560.62 721.47,565.67 719.68,580.85 719.02,587.58 718.69,592.6 718.59,595.93 718.6,599.25 718.73,602.52 719.08,607.44 719.59,612.41 720.26,617.38 721.36,623.91 722.32,628.66 723.77,634.7 725.28,640.01 726.68,644.22 728.2,648.22 729.84,652.03 731.61,655.67 733.5,659.14 736.36,663.82 738.64,667.26 741.07,670.49 743.23,672.92 745.68,675.23 747.75,676.88 749.68,678.22 752.79,680.1 755,681.27 758.52,682.92 762.28,684.46 766.28,685.92 770.53,687.32 776.55,689.11 780.6,690.21 785.83,691.46 794.33,693.17 800.36,694.2 806.65,695.18 816.45,696.53 826.57,697.78 857.96,701.31 874.2,702.92 895.32,704.68 912.56,705.93 929.84,707.04 955.28,708.53 971.07,709.31 990.39,710.04 1033.42,711.34 1050,711.9 1168.26,716.46"/>
<path d="M736.04,560.5 775.1,591.31"/>
<path d="M760.5,555.03 1179.56,601.32"/>
<path d="M1231,560.5 1231,587.5"/>
<path d="M1231,616.5 1231,643.5"/>
<path d="M1231,672.5 1231,699.5"/>
<path d="M795.51,616.5 796.96,643.51"/>
<path d="M1256.5,597.4C1273,595 1290.5,598.5 1290.5,607 1290.5,613.8 1280,617.3 1267.2,617.6"/>
</g>
<g fill="#191970" stroke="#191970">
<polygon points="80.5,419.5 84,429.5 87.5,419.5"/>
<polygon points="200.05,71.78 190.8,76.95 201.25,78.67"/>
<polygon points="374.32,192.4 384.75,194.25 377.75,186.3"/>
<polygon points="508.06,70.07 498.6,74.85 508.97,77.01"/>
<polygon points="521.17,362.92 521.77,373.5 527.9,364.86"/>
<polygon points="561.67,474.59 563.02,485.1 568.52,476.04"/>
<polygon points="704.86,535.77 714,541.13 710.19,531.24"/>
<polygon points="860.02,66.55 858.25,77 866.14,69.94"/>
<polygon points="944.12,186.2 950.7,194.5 950.73,183.91"/>
<polygon points="965.59,302.97 959.47,311.63 969.65,308.67"/>
<polygon points="1159.63,363.31 1163.63,373.13 1166.62,362.96"/>
<polygon points="1488.53,423.06 1497.3,429 1494.15,418.88"/>
<polygon points="1247.7,78.6 1258.13,76.73 1248.81,71.69"/>
<polygon points="1394.59,78.75 1404.98,76.65 1395.55,71.81"/>
<polygon points="1540.43,77.67 1551,77.03 1542.33,70.94"/>
<polygon points="1614.8,78.77 1625.25,77.03 1615.99,71.87"/>
<polygon points="156.59,364.11 162.15,373.13 163.42,362.61"/>
<polygon points="176.84,131.05 184.37,138.5 183.13,127.98"/>
<polygon points="677.49,552.04 687.53,548.63 677.56,545.04"/>
<polygon points="677.32,549.59 687.53,546.75 677.78,542.6"/>
<polygon points="323.34,240.95 328.5,250.2 330.23,239.75"/>
<polygon points="415.16,127.91 415.24,138.5 421.79,130.17"/>
<polygon points="675.09,247.99 685.38,250.5 678.9,242.12"/>
<polygon points="1191.17,551.34 1201.35,548.4 1191.56,544.35"/>
<polygon points="405.9,184.28 408.68,194.5 412.88,184.77"/>
<polygon points="350.09,241.79 344.06,250.5 354.21,247.45"/>
<polygon points="677.27,548.51 687.53,545.85 677.85,541.53"/>
<polygon points="449.79,419.46 453.53,429.38 456.79,419.3"/>
<polygon points="653.02,254.55 663.5,253 654.34,247.68"/>
<polygon points="837.01,184.14 839.21,194.5 843.95,185.02"/>
<polygon points="727.92,530.91 728.25,541.5 734.59,533.01"/>
<polygon points="745.51,246.38 736.5,251.95 747.02,253.22"/>
<polygon points="740.03,299.12 732.43,306.5 742.97,305.48"/>
<polygon points="937.46,239.91 937.39,250.5 944.05,242.26"/>
<polygon points="1034.98,306.56 1044.08,312 1040.36,302.08"/>
<polygon points="732.68,531.21 730.17,541.5 738.55,535.01"/>
<polygon points="1023.29,310.48 1033.77,312 1026.52,304.27"/>
<polygon points="1294.3,711.75 1284.45,715.65 1294.58,718.74"/>
<polygon points="696.5,296.5 700,306.5 703.5,296.5"/>
<polygon points="900.45,314.55 911,313.62 902.17,307.77"/>
<polygon points="703.93,534.69 712.35,541.13 709.78,530.85"/>
<polygon points="737.37,531.84 733.02,541.5 742.45,536.66"/>
<polygon points="905.98,418.91 906.15,429.5 912.63,421.11"/>
<polygon points="1221.24,533.14 1227.75,541.5 1227.87,530.91"/>
<polygon points="1113.22,374.84 1123.73,373.5 1114.67,368"/>
<polygon points="1458.91,433.56 1469.25,431.25 1459.73,426.61"/>
<polygon points="1296.5,128.5 1300,138.5 1303.5,128.5"/>
<polygon points="1377.42,188.88 1386.4,194.5 1382.89,184.5"/>
<polygon points="1609.87,424.95 1619.44,429.5 1614.8,419.97"/>
<polygon points="677.26,548.24 687.53,545.63 677.87,541.27"/>
<polygon points="325.77,431.31 316,435.42 326.2,438.3"/>
<polygon points="1024.04,423.19 1015.54,429.5 1026.12,429.87"/>
<polygon points="981.79,477.68 974.64,485.5 985.11,483.84"/>
<polygon points="770.71,543.54 760.95,547.65 771.15,550.53"/>
<polygon points="1137.58,474.94 1138.46,485.5 1144.35,476.7"/>
<polygon points="1229.33,530.75 1231.5,541.13 1236.27,531.67"/>
<polygon points="1241.72,427.88 1252.19,429.5 1245.01,421.71"/>
<polygon points="1331.47,531.24 1334.62,541.35 1338.47,531.48"/>
<polygon points="1381.29,477.98 1389,485.25 1387.5,474.76"/>
<polygon points="1442.27,531.06 1444.8,541.35 1449.24,531.73"/>
<polygon points="1458.88,432.96 1469.25,430.8 1459.79,426.02"/>
<polygon points="1579.01,536.16 1570.5,542.48 1581.09,542.85"/>
<polygon points="1590.14,433.49 1600.5,431.25 1591.01,426.54"/>
<polygon points="770.61,544.28 760.95,548.63 771.21,551.26"/>
<polygon points="1507.44,475.93 1511.98,485.5 1514.4,475.18"/>
<polygon points="1561.6,482.51 1571.77,485.5 1565.69,476.82"/>
<polygon points="770.17,543.63 760.5,547.95 770.76,550.6"/>
<polygon points="1266.97,534.94 1258.65,541.5 1269.25,541.56"/>
<polygon points="1347.59,532.2 1342.52,541.5 1352.28,537.39"/>
<polygon points="1425.47,536.28 1434.69,541.5 1430.74,531.67"/>
<polygon points="1501.32,541.09 1511.91,541.5 1503.89,534.58"/>
<polygon points="1377.01,537.45 1368,543.03 1378.52,544.29"/>
<polygon points="1475.11,534.58 1467.09,541.5 1477.68,541.09"/>
<polygon points="1548.26,531.67 1544.31,541.5 1553.53,536.28"/>
<polygon points="1282.48,599.19 1272.75,603.38 1282.97,606.17"/>
<polygon points="609.81,482.91 600.5,487.96 610.93,489.82"/>
<polygon points="745.8,533.23 739.18,541.5 749.52,539.16"/>
<polygon points="1285.26,546.45 1295.63,544.28 1286.16,539.51"/>
<polygon points="677.28,547.59 687.53,544.88 677.83,540.61"/>
<polygon points="529.07,483.8 539.53,485.5 532.41,477.65"/>
<polygon points="74.01,475.04 75.7,485.5 80.9,476.27"/>
<polygon points="217.89,485.77 228.48,485.5 220.04,479.1"/>
<polygon points="254.5,475.5 258,485.5 261.5,475.5"/>
<polygon points="677.27,549.77 687.53,547.13 677.85,542.8"/>
<polygon points="677.35,551.22 687.53,548.25 677.72,544.23"/>
<polygon points="685.08,541.64 695.67,541.5 687.3,535"/>
<polygon points="753.95,534.34 746.14,541.5 756.71,540.77"/>
<polygon points="769.41,536.49 760.5,542.23 771.04,543.29"/>
<polygon points="769.94,541.22 760.5,546.04 770.88,548.16"/>
<polygon points="1168.12,719.96 1178.25,716.85 1168.39,712.97"/>
<polygon points="772.94,594.06 782.96,597.5 777.27,588.56"/>
<polygon points="1179.18,604.8 1189.5,602.42 1179.94,597.84"/>
<polygon points="1227.5,587.5 1231,597.5 1234.5,587.5"/>
<polygon points="1227.5,643.5 1231,653.5 1234.5,643.5"/>
<polygon points="1227.5,699.5 1231,709.5 1234.5,699.5"/>
<polygon points="793.46,643.7 797.49,653.5 800.45,643.33"/>
<polygon points="1267.1,621.1 1257.2,617.4 1267.3,614.1"/>
</g>
</svg>
</body></html>
